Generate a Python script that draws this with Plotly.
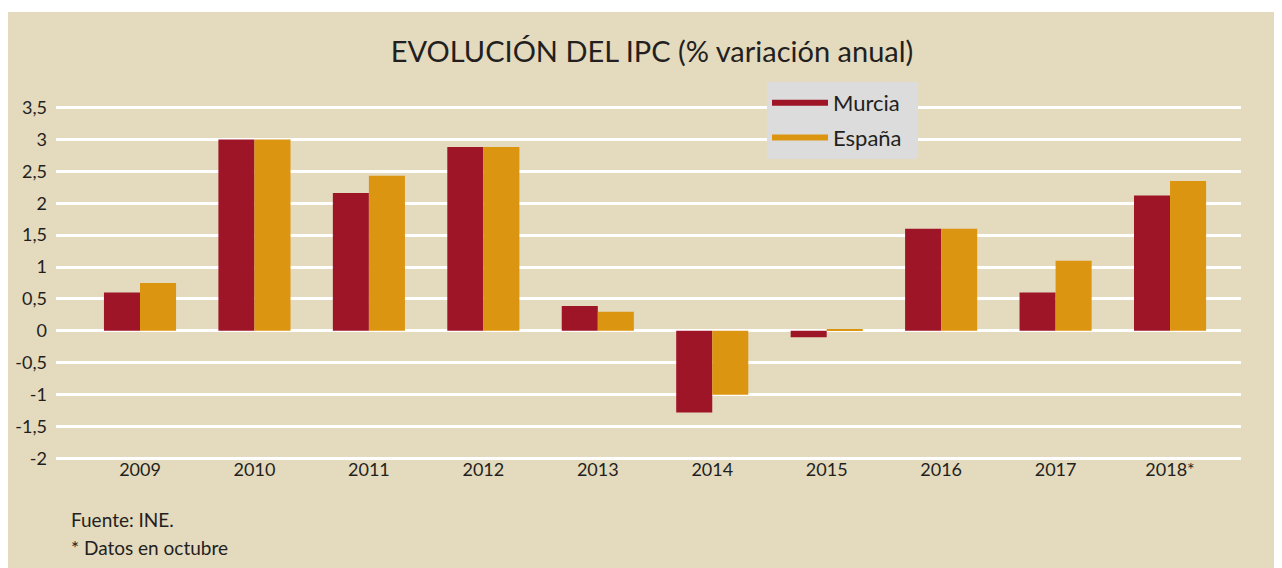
import plotly.graph_objects as go

years = ["2009", "2010", "2011", "2012", "2013", "2014", "2015", "2016", "2017", "2018*"]
murcia = [0.6, 3.0, 2.16, 2.88, 0.39, -1.28, -0.1, 1.6, 0.6, 2.12]
espana = [0.75, 3.0, 2.43, 2.88, 0.3, -1.0, 0.03, 1.6, 1.1, 2.35]
yticks = [3.5, 3, 2.5, 2, 1.5, 1, 0.5, 0, -0.5, -1, -1.5, -2]
yticklabels = ["3,5", "3", "2,5", "2", "1,5", "1", "0,5", "0", "-0,5", "-1", "-1,5", "-2"]

RED = "#9e1528"
ORANGE = "#dc9511"
TAN = "#e4dabe"
TXT = "#231f20"
FONT = "Lato, sans-serif"

fig = go.Figure()
fig.add_trace(go.Bar(x=years, y=murcia, name="Murcia", marker=dict(color=RED, line=dict(width=0)), showlegend=False))
fig.add_trace(go.Bar(x=years, y=espana, name="España", marker=dict(color=ORANGE, line=dict(width=0)), showlegend=False))
# legend entries drawn as line keys
fig.add_trace(go.Scatter(x=[None], y=[None], mode="lines", name="Murcia", legendgroup="m",
                         line=dict(color=RED, width=6)))
fig.add_trace(go.Scatter(x=[None], y=[None], mode="lines", name="España\u00a0\u00a0", legendgroup="e",
                         line=dict(color=ORANGE, width=6)))

# page is offset by 8px body margin; figure coordinates = page - 8
OFF = 8
W, H = 1282 - OFF, 568 - OFF
l, r, t, b = 48, 41, 97, 107
pw, ph = W - l - r, H - t - b

def px_x(px):
    return (px - OFF - l) / pw

def px_y(py):
    return (H - b - (py - OFF)) / ph

fig.add_shape(type="rect", xref="paper", yref="paper",
              x0=px_x(0), x1=px_x(1300), y0=px_y(600), y1=px_y(12),
              fillcolor=TAN, line=dict(width=0), layer="below")

fig.add_annotation(text="Fuente: INE.", xref="paper", yref="paper", x=px_x(69), y=px_y(520),
                   xanchor="left", yanchor="middle", showarrow=False,
                   font=dict(family=FONT, size=19, color=TXT))
fig.add_annotation(text="* Datos en octubre", xref="paper", yref="paper", x=px_x(69), y=px_y(547),
                   xanchor="left", yanchor="middle", showarrow=False,
                   font=dict(family=FONT, size=19, color=TXT))

fig.update_layout(
    width=W, height=H,
    margin=dict(l=l, r=r, t=t, b=b, pad=0, autoexpand=False),
    paper_bgcolor="white",
    plot_bgcolor="rgba(0,0,0,0)",
    barmode="group", bargap=0.37, bargroupgap=0,
    title=dict(text="EVOLUCIÓN DEL IPC (% variación anual)", x=(652 - OFF) / W, xref="container", xanchor="center",
               y=1 - (52 - OFF) / H, yref="container", yanchor="middle",
               font=dict(family=FONT, size=29, color=TXT)),
    font=dict(family=FONT, color=TXT),
    legend=dict(x=px_x(767), y=px_y(82), xanchor="left", yanchor="top",
                bgcolor="#dcdcdc", borderwidth=0, font=dict(family=FONT, size=22, color=TXT),
                itemwidth=56, tracegroupgap=3, traceorder="grouped"),
    showlegend=True,
)
fig.update_xaxes(range=[-0.734, 9.62], showgrid=False, showline=False, ticks="", automargin=False,
                 tickfont=dict(family=FONT, size=18, color=TXT), ticklabelstandoff=-4)
fig.update_yaxes(range=[-2.04, 3.54], tickvals=yticks, ticktext=yticklabels, automargin=False,
                 showgrid=True, gridcolor="white", gridwidth=2.5,
                 zeroline=True, zerolinecolor="white", zerolinewidth=2.5,
                 showline=False, ticks="", ticklabelstandoff=8,
                 tickfont=dict(family=FONT, size=18, color=TXT))

fig.write_html("out.html")
